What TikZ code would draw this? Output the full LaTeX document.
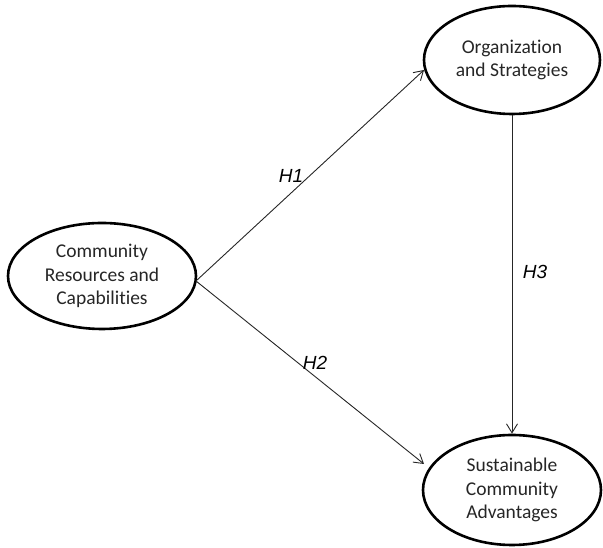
\documentclass[tikz,border=0pt]{standalone}
\usepackage{fontspec}
\setmainfont{Carlito}[Ligatures=NoCommon]
\newfontfamily\labelfont{Liberation Sans}
\usetikzlibrary{shapes.geometric,arrows.meta}
\begin{document}
\begin{tikzpicture}[x=1pt,y=1pt,
  construct/.style={draw=black,line width=2.6pt,ellipse,inner sep=0pt,
    font=\fontsize{19.5}{23.5}\selectfont,text=black!85,align=center},
  link/.style={draw=black!85,line width=0.9pt,-{Straight Barb[length=9pt,width=11pt,line width=0.9pt]}},
  hlabel/.style={font=\labelfont\itshape\fontsize{19}{22}\selectfont,text=black}]
\useasboundingbox (0,0) rectangle (603,548);
\node[construct,minimum width=188pt,minimum height=106pt] (crc) at (102,272) {Community\\Resources and\\Capabilities};
\node[construct,minimum width=176pt,minimum height=108pt] (os) at (512,488) {Organization\\and Strategies};
\node[construct,minimum width=178pt,minimum height=110pt] (sca) at (512,58) {Sustainable\\Community\\Advantages};
\coordinate (s1) at (196,267);
\draw[link] (s1) -- (424,478);
\draw[link] (s1) -- (424,84);
\draw[link] (os.south) -- (sca.north);
\node[hlabel] (h1) at (291,372) {H1};
\node[hlabel] (h2) at (315,185) {H2};
\node[hlabel] (h3) at (535,276) {H3};
\end{tikzpicture}
\end{document}
